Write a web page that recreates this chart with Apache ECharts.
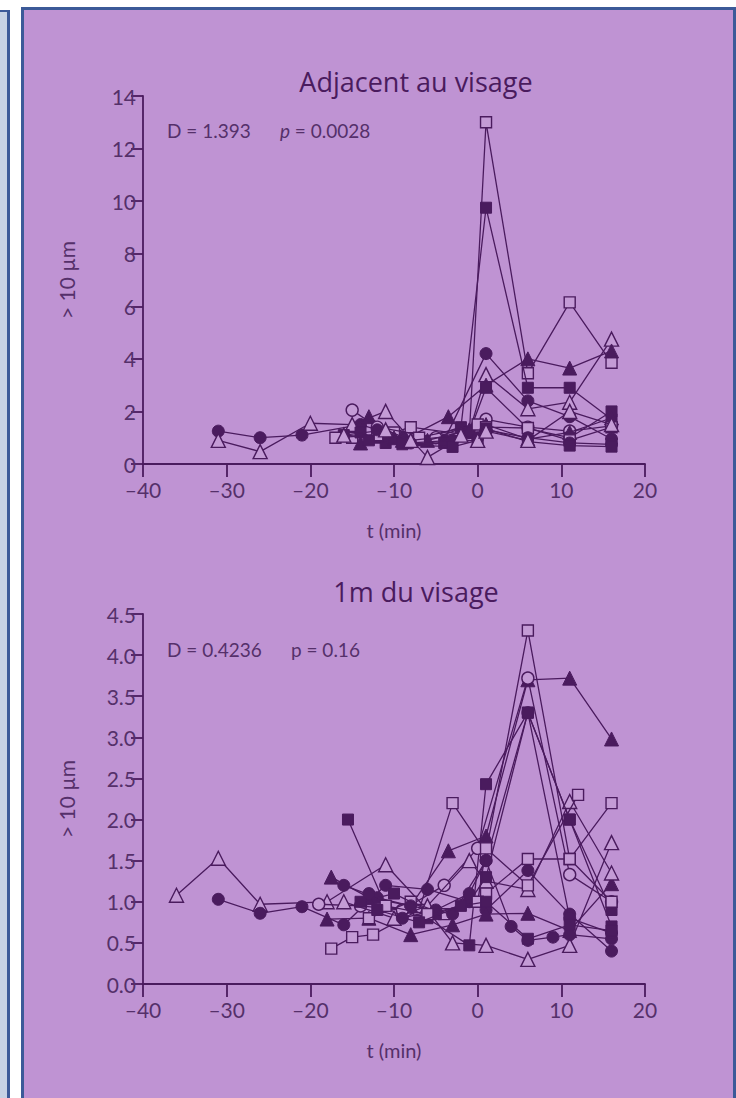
<!DOCTYPE html>
<html>
<head>
<meta charset="utf-8">
<script src="https://cdn.jsdelivr.net/npm/echarts@6/dist/echarts.min.js"></script>
<style>
  html, body { margin: 0; padding: 0; background: #ffffff; width: 736px; height: 1098px; overflow: hidden; }
  #strip { position: absolute; left: 0; top: 10px; width: 7px; height: 1100px; background: #c6d2e4; border-top: 2px solid #3c5a98; border-right: 3px solid #3c5a98; }
  #panel { position: absolute; left: 21px; top: 7px; width: 709px; height: 1100px; background: #bf93d3; border: 3px solid #3c5a98; }
  #chart { position: absolute; left: 0; top: 0; width: 736px; height: 1098px; }
</style>
</head>
<body>
<div id="strip"></div>
<div id="panel"></div>
<div id="chart"></div>
<script>
// ---------- DATA ----------
const titleTop = 'Adjacent au visage';
const titleBottom = '1m du visage';
const statTop = ['D = 1.393', 'p = 0.0028'];
const statBottom = ['D = 0.4236', 'p = 0.16'];
const yNameText = '> 10 µm';
const xNameText = 't (min)';

// Top panel (adjacent to face): each array = one subject, [t (min), count]
const topFilledCircleA = [[-31,1.25],[-26,1.0],[-21,1.1],[-14,1.5],[-9,1.0],[-4,0.9],[1,4.2],[6,2.4],[11,1.8],[16,0.95]];
const topOpenTriangleA = [[-31,0.9],[-26,0.47],[-20,1.55],[-15,1.5],[-11,2.0],[-6,0.25],[-1,1.2],[1,3.4],[6,2.1],[11,2.35],[16,4.75]];
const topOpenSquareA = [[-15,1.0],[-10,1.2],[-8,1.4],[-1,1.1],[1,13.0],[6,3.45],[11,6.15],[16,3.85]];
const topFilledSquareA = [[-16,1.1],[-12,1.0],[-7,0.9],[-2,1.4],[1,9.75],[6,2.9],[11,2.9],[16,1.7]];
const topFilledTriangleA = [[-13,1.8],[-9,0.9],[-3.5,1.8],[1,3.0],[6,4.0],[11,3.65],[16,4.3]];
const topOpenCircleA = [[-15,2.05],[-12,1.4],[-5,1.0],[1,1.7],[6,1.4],[11,1.25],[16,1.45]];
const topFilledSquareB = [[-14,1.2],[-11,0.8],[-4,0.8],[-1,1.2],[1,2.9],[6,1.35],[11,1.0],[16,2.0]];
const topFilledTriangleB = [[-14,0.8],[-10,1.0],[-6,0.9],[-1,1.3],[1,1.5],[6,0.95],[11,1.2],[16,1.75]];
const topOpenSquareB = [[-17,1.0],[-12,1.1],[-7,1.0],[0,1.5],[1,1.4],[6,1.37],[11,0.9],[16,1.4]];
const topFilledCircleB = [[-12,1.3],[-8,0.8],[-3,0.9],[0,1.0],[1,1.3],[6,1.0],[11,0.8],[16,0.75]];
const topFilledSquareC = [[-13,0.9],[-9,0.75],[-3,0.65],[0,0.9],[1,1.35],[6,0.85],[11,0.7],[16,0.66]];
const topOpenTriangleB = [[-16,1.1],[-11,1.3],[-8,0.9],[-2,1.1],[0,0.9],[1,1.25],[6,0.9],[11,2.0],[16,1.5]];

// Bottom panel (1 m from face)
const botOpenTriangleA = [[-36,1.08],[-31,1.53],[-26,0.97],[-18,1.0],[-11,1.45],[-6,0.9],[-3,0.5],[1,0.47],[6,0.3],[11,0.47],[16,1.72]];
const botFilledCircleA = [[-31,1.03],[-26,0.86],[-21,0.94],[-16,0.72],[-11,1.2],[-6,1.15],[-1,1.0],[1,0.9],[6,1.38],[11,0.85],[16,0.4]];
const botFilledSquareA = [[-15.5,2.0],[-11,0.95],[-6,0.8],[-1,0.47],[1,2.43],[6,3.3],[11,2.0],[16,0.9]];
const botOpenSquareA = [[-17.5,0.43],[-15,0.57],[-12.5,0.6],[-7,0.9],[-3,2.2],[1,1.6],[6,4.3],[11,1.52],[16,2.2]];
const botFilledTriangleA = [[-17.5,1.3],[-13,1.05],[-8,0.95],[-3.5,1.62],[1,1.8],[6,3.7],[11,3.72],[16,2.98]];
const botOpenCircleA = [[-19,0.97],[-14,0.95],[-9,0.9],[-4,1.2],[0,1.65],[6,3.72],[11,1.33],[16,1.0]];
const botFilledTriangleB = [[-18,0.79],[-13,0.8],[-8,0.6],[-3,0.72],[1,0.85],[6,0.86],[11,0.65],[16,1.22]];
const botOpenTriangleB = [[-16,1.0],[-10,0.8],[-6,0.95],[-1,1.5],[1,1.25],[6,1.15],[11,2.22],[16,1.35]];
const botOpenSquareB = [[-13,0.8],[-8,1.0],[-4,0.85],[1,1.1],[6,1.52],[11,1.52],[16,1.0]];
const botFilledCircleB = [[-16,1.2],[-12,1.05],[-8,0.95],[-3,0.85],[1,1.5],[4,0.7],[6,0.53],[9,0.57],[11,0.6],[16,0.55]];
const botFilledSquareB = [[-14,1.0],[-10,1.1],[-5,0.85],[-1,1.0],[1,1.3],[6,3.3],[11,2.0],[16,0.7]];
const botFilledCircleC = [[-13,1.1],[-9,0.8],[-5,0.9],[-1,1.1],[1,1.5],[6,3.3],[11,0.8],[16,0.62]];
const botOpenSquareC = [[-11,0.95],[-6,0.85],[0,1.0],[1,1.65],[6,1.2],[12,2.3]];
const botFilledSquareC = [[-12,0.9],[-7,0.75],[-2,0.95],[1,1.0],[6,0.55],[11,0.72],[16,0.65]];

// marker type per series: [data, shape, filled]
const topSeries = [
  [topFilledCircleA,'circle',true],[topOpenTriangleA,'triangle',false],[topOpenSquareA,'rect',false],
  [topFilledSquareA,'rect',true],[topFilledTriangleA,'triangle',true],[topOpenCircleA,'circle',false],
  [topFilledSquareB,'rect',true],[topFilledTriangleB,'triangle',true],[topOpenSquareB,'rect',false],
  [topFilledCircleB,'circle',true],[topFilledSquareC,'rect',true],[topOpenTriangleB,'triangle',false]
];
const botSeries = [
  [botOpenTriangleA,'triangle',false],[botFilledCircleA,'circle',true],[botFilledSquareA,'rect',true],
  [botOpenSquareA,'rect',false],[botFilledTriangleA,'triangle',true],[botOpenCircleA,'circle',false],
  [botFilledTriangleB,'triangle',true],[botOpenTriangleB,'triangle',false],[botOpenSquareB,'rect',false],
  [botFilledCircleB,'circle',true],[botFilledSquareB,'rect',true],[botFilledCircleC,'circle',true],
  [botOpenSquareC,'rect',false],[botFilledSquareC,'rect',true]
];

// ---------- STYLE ----------
const INK = '#4a1b5e';
const LABEL = '#55306a';
const BG = '#c49bd6';
const TICKFONT = 'Lato';

function axisX(gridIndex) {
  return {
    type: 'value', gridIndex, min: -40, max: 20, interval: 10,
    axisLine: { show: true, onZero: false, lineStyle: { color: INK, width: 1.8 } },
    axisTick: { show: true, inside: false, length: 13, lineStyle: { color: INK, width: 1.8 } },
    axisLabel: { color: LABEL, fontFamily: TICKFONT, fontSize: 21, margin: 15,
      formatter: v => (v < 0 ? '–' + Math.abs(v) : String(v)) },
    splitLine: { show: false },
    name: xNameText, nameLocation: 'middle', nameGap: 56,
    nameTextStyle: { color: LABEL, fontFamily: TICKFONT, fontSize: 20 }
  };
}
function axisY(gridIndex, max, interval, decimals) {
  return {
    type: 'value', gridIndex, min: 0, max, interval,
    axisLine: { show: true, onZero: false, lineStyle: { color: INK, width: 1.8 } },
    axisTick: { show: true, inside: false, length: 12, lineStyle: { color: INK, width: 1.8 } },
    axisLabel: { color: LABEL, fontFamily: TICKFONT, fontSize: 21, margin: 7,
      formatter: v => v.toFixed(decimals) },
    splitLine: { show: false },
    name: yNameText, nameLocation: 'middle', nameRotate: 90, nameGap: 66,
    nameTextStyle: { color: LABEL, fontFamily: TICKFONT, fontSize: 21 }
  };
}
function buildSeries(list, idx) {
  return list.map(([data, shape, filled], i) => ({
    type: 'line', xAxisIndex: idx, yAxisIndex: idx, data,
    symbol: shape, symbolSize: shape === 'triangle' ? 14 : (shape === 'rect' ? 11 : 12),
    showAllSymbol: true, animation: false, z: 2 + i,
    lineStyle: { color: INK, width: 1.3 },
    itemStyle: filled ? { color: INK, borderColor: INK, borderWidth: 1 }
                      : { color: BG, borderColor: INK, borderWidth: 1.4 }
  }));
}

const chart = echarts.init(document.getElementById('chart'), null, { renderer: 'svg', width: 736, height: 1098 });
chart.setOption({
  animation: false,
  backgroundColor: 'transparent',
  title: [
    { text: titleTop, left: 411, top: 63, textAlign: 'center',
      textStyle: { color: '#4a1b5e', fontFamily: 'Open Sans', fontSize: 27, fontWeight: 'normal' } },
    { text: titleBottom, left: 411, top: 573, textAlign: 'center',
      textStyle: { color: '#4a1b5e', fontFamily: 'Open Sans', fontSize: 27, fontWeight: 'normal' } }
  ],
  graphic: [
    { type: 'text', left: 167, top: 121, style: { text: statTop[0] + '      {i|' + statTop[1].slice(0,1) + '}' + statTop[1].slice(1),
      fill: LABEL, font: '19px Lato', rich: { i: { fontStyle: 'italic', fontFamily: 'Lato', fontSize: 19, fill: LABEL } } } },
    { type: 'text', left: 167, top: 640, style: { text: statBottom[0] + '      ' + statBottom[1],
      fill: LABEL, font: '19px Lato' } }
  ],
  grid: [
    { left: 143, width: 502, top: 96, height: 368 },
    { left: 143, width: 502, top: 614, height: 370 }
  ],
  xAxis: [axisX(0), axisX(1)],
  yAxis: [axisY(0, 14, 2, 0), axisY(1, 4.5, 0.5, 1)],
  series: buildSeries(topSeries, 0).concat(buildSeries(botSeries, 1))
});
</script>
</body>
</html>
